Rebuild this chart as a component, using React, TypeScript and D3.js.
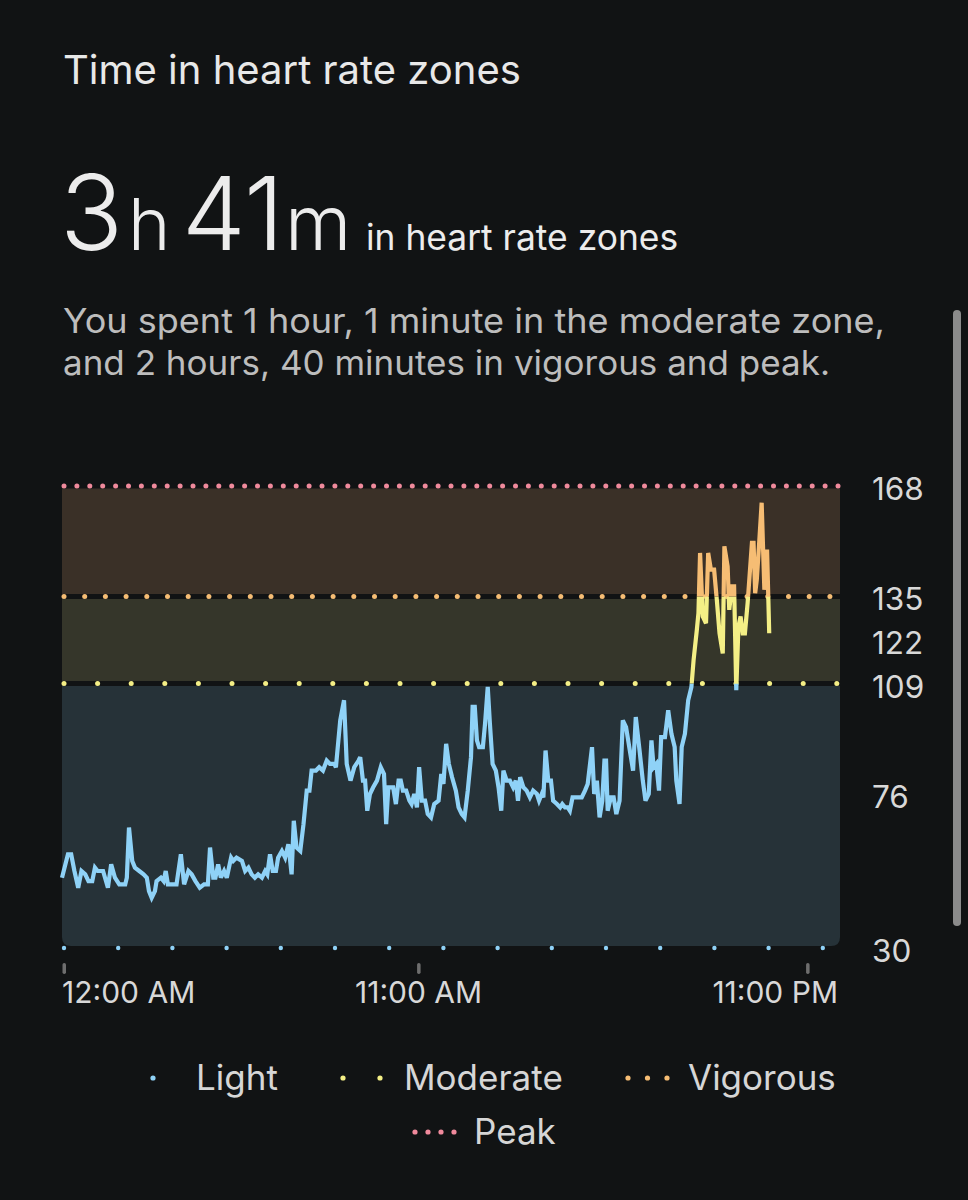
import React from "react";
import * as d3 from "d3";

// ---- data (minutes since midnight, beats per minute) ----
const minutes = [
  0, 11, 17, 23, 30, 36, 43, 49, 56, 61, 66, 76, 85, 91, 98, 106, 117, 120, 124, 130,
  135, 143, 151, 157, 161, 166, 172, 175, 183, 188, 192, 196, 206, 212, 220, 226, 234, 240, 247, 255,
  263, 270, 274, 280, 284, 289, 294, 300, 305, 313, 317, 323, 333, 339, 345, 351, 357, 363, 370, 376,
  380, 385, 390, 396, 400, 407, 413, 419, 425, 429, 434, 441, 447, 453, 458, 462, 470, 476, 483, 490,
  496, 504, 507, 515, 522, 527, 534, 541, 549, 552, 557, 561, 565, 570, 576, 583, 590, 596, 600, 604,
  613, 618, 623, 627, 631, 637, 643, 647, 652, 657, 661, 666, 672, 677, 683, 689, 697, 702, 706, 711,
  716, 722, 729, 734, 740, 745, 751, 757, 760, 764, 768, 772, 779, 783, 788, 792, 797, 803, 808, 813,
  817, 823, 829, 835, 840, 844, 848, 854, 860, 866, 872, 879, 883, 888, 891, 895, 900, 905, 909, 916,
  922, 926, 931, 936, 940, 945, 953, 962, 968, 973, 981, 985, 990, 995, 1000, 1004, 1007, 1010, 1016, 1021,
  1026, 1032, 1038, 1044, 1052, 1057, 1062, 1069, 1075, 1080, 1086, 1091, 1095, 1100, 1105, 1109, 1116, 1122, 1128, 1134,
  1137, 1143, 1147, 1153, 1159, 1165, 1169, 1175, 1178, 1181, 1186, 1192, 1196, 1201, 1207, 1212, 1217, 1223, 1226, 1232,
  1235, 1240, 1244, 1248, 1252, 1256, 1260, 1264, 1269, 1277, 1280, 1283, 1286, 1290, 1295, 1300, 1305, 1309
];
const heartRate = [
  51, 58, 58, 53, 48, 53, 52, 50, 50, 54, 53, 53, 48, 55, 51, 49, 49, 51, 66, 56,
  54, 53, 52, 51, 47, 45, 47, 50, 51, 50, 53, 49, 49, 49, 58, 49, 53, 52, 50, 48,
  49, 49, 60, 51, 51, 55, 51, 53, 51, 57, 56, 57, 56, 53, 54, 52, 51, 52, 51, 53,
  52, 58, 53, 53, 57, 59, 57, 61, 52, 68, 60, 59, 67, 77, 77, 83, 83, 84, 83, 86,
  85, 85, 84, 98, 104, 85, 80, 84, 86, 87, 80, 80, 71, 76, 78, 80, 84, 82, 67, 78,
  78, 73, 80, 80, 77, 77, 74, 73, 76, 72, 84, 74, 74, 70, 69, 73, 74, 82, 79, 91,
  85, 81, 77, 72, 70, 69, 77, 87, 102, 102, 92, 90, 90, 97, 108, 97, 85, 83, 78, 71,
  83, 80, 80, 78, 80, 74, 81, 78, 77, 75, 77, 76, 74, 76, 75, 89, 80, 80, 74, 73,
  72, 73, 72, 72, 71, 75, 75, 75, 77, 79, 90, 76, 80, 69, 74, 86, 86, 71, 75, 75,
  70, 74, 98, 96, 88, 83, 99, 89, 80, 74, 76, 92, 84, 85, 77, 93, 93, 101, 94, 90,
  80, 73, 90, 94, 104, 108, 116, 125, 130, 148, 129, 127, 148, 143, 143, 134, 124, 118, 150, 144,
  131, 138, 138, 107, 126, 129, 124, 124, 133, 151, 151, 136, 140, 150, 163, 137, 149, 124
];

const yTicks = [168, 135, 122, 109, 76, 30];
const xTickMinutes = [0, 660, 1380];
const xTickLabels = ["12:00 AM", "11:00 AM", "11:00 PM"];

const zoneNames = ["Light", "Moderate", "Vigorous", "Peak"];
const zoneColors = ["#8fd2f7", "#f4ef86", "#f6bd74", "#f08a9c"];
const zoneFill = ["#263238", "#35362a", "#3a3027"];
const zoneDotSpacing = [54.2, 33.6, 20.7, 12.9];

const BG = "#111314";
const FONT = "Inter, 'Open Sans', sans-serif";

export default function App() {
  const W = 968;
  const H = 1200;
  const x = d3.scaleLinear().domain([0, 1440]).range([62, 840]);
  const y = d3.scaleLinear().domain([30, 168]).range([948, 486]);

  const data = minutes.map((m, i) => ({ m, v: heartRate[i] }));
  const lineGen = d3
    .line<{ m: number; v: number }>()
    .x((d) => x(d.m))
    .y((d) => y(d.v));
  const pathD = lineGen(data) || "";

  const left = x(0);
  const right = x(1440);
  const bottom = y(30) - 2;
  const r = 9;

  const lightTop = y(109);
  const lightPath = `M${left},${lightTop} H${right} V${bottom - r} Q${right},${bottom} ${right - r},${bottom} H${left + r} Q${left},${bottom} ${left},${bottom - r} Z`;

  const clipBands = [
    { id: "clipLight", y0: y(109), y1: H },
    { id: "clipMod", y0: y(135), y1: y(109) },
    { id: "clipVig", y0: 0, y1: y(135) },
  ];

  const dotRow = (level: number, zi: number, rr: number) => {
    const sp = zoneDotSpacing[zi];
    const n = Math.floor((right - 2 - 64) / sp);
    return d3.range(n + 1).map((k) => (
      <circle key={`d${zi}-${k}`} cx={64 + k * sp} cy={y(level)} r={rr} fill={zoneColors[zi]} />
    ));
  };

  const legendRow1 = [
    { zi: 0, dotsX: 153, textX: 196 },
    { zi: 1, dotsX: 343, textX: 404 },
    { zi: 2, dotsX: 628, textX: 688 },
  ];
  const legendRow2 = [{ zi: 3, dotsX: 415, textX: 474 }];
  const legendDotGap = [0, 37, 19.5, 13];

  const renderLegend = (items: { zi: number; dotsX: number; textX: number }[], cy: number) =>
    items.map((it) => (
      <g key={`lg${it.zi}`}>
        {d3.range(it.zi + 1).map((k) => (
          <circle key={k} cx={it.dotsX + k * legendDotGap[it.zi]} cy={cy} r={2.6} fill={zoneColors[it.zi]} />
        ))}
        <text x={it.textX} y={cy + 12} fontSize={35} fill="#d6d6d6" fontFamily={FONT}>
          {zoneNames[it.zi]}
        </text>
      </g>
    ));

  return (
    <div style={{ position: "absolute", left: 0, top: 0, width: W, height: H, background: BG }}>
      <svg width={W} height={H} style={{ display: "block" }}>
        <rect x={0} y={0} width={W} height={H} fill={BG} />
        <defs>
          {clipBands.map((c) => (
            <clipPath id={c.id} key={c.id}>
              <rect x={0} y={c.y0} width={W} height={c.y1 - c.y0} />
            </clipPath>
          ))}
        </defs>

        {/* Header text */}
        <text x={63} y={84} fontSize={40} fill="#e8e8e8" fontFamily={FONT}>
          Time in heart rate zones
        </text>
        <text y={250} fill="#ececec" fontFamily={FONT} fontWeight={300}>
          <tspan x={60} fontSize={104}>3</tspan>
          <tspan x={128} fontSize={72}>h</tspan>
          <tspan x={182} fontSize={102} textLength={102} lengthAdjust="spacingAndGlyphs">41</tspan>
          <tspan x={285} fontSize={76}>m</tspan>
        </text>
        <text x={366} y={250} fontSize={35.4} fill="#ececec" fontFamily={FONT}>
          in heart rate zones
        </text>
        <text x={63} y={333} fontSize={33.5} fill="#bdbdbd" fontFamily={FONT} textLength={822} lengthAdjust="spacingAndGlyphs">
          You spent 1 hour, 1 minute in the moderate zone,
        </text>
        <text x={63} y={375} fontSize={33.5} fill="#bdbdbd" fontFamily={FONT} textLength={767} lengthAdjust="spacingAndGlyphs">
          and 2 hours, 40 minutes in vigorous and peak.
        </text>

        {/* Zone backgrounds */}
        <rect x={left} y={y(168)} width={right - left} height={y(135) - y(168)} fill={zoneFill[2]} />
        <rect x={left} y={y(135)} width={right - left} height={y(109) - y(135)} fill={zoneFill[1]} />
        <path d={lightPath} fill={zoneFill[0]} />

        {[168, 135, 109].map((lv) => (
          <line key={`bl${lv}`} x1={left} x2={right} y1={y(lv)} y2={y(lv)} stroke={BG} strokeWidth={5} />
        ))}
        {dotRow(168, 3, 2.5)}
        {dotRow(135, 2, 2.5)}
        {dotRow(109, 1, 2.5)}
        {dotRow(30, 0, 2.2)}

        {clipBands.map((c, i) => (
          <path
            key={`ln${i}`}
            d={pathD}
            fill="none"
            stroke={zoneColors[i]}
            strokeWidth={4.2}
            strokeLinejoin="miter"
            strokeMiterlimit={3}
            clipPath={`url(#${c.id})`}
          />
        ))}

        {yTicks.map((t) => (
          <text key={`yt${t}`} x={872} y={y(t) + 14} fontSize={31.5} fill="#d8d8d8" fontFamily={FONT}>
            {t}
          </text>
        ))}

        {xTickMinutes.map((m, i) => {
          const tx = x(m);
          const anchor = i === 0 ? "start" : i === xTickMinutes.length - 1 ? "end" : "middle";
          const lx = i === 0 ? left : i === xTickMinutes.length - 1 ? right - 2 : tx;
          return (
            <g key={`xt${m}`}>
              <rect x={tx - 1.5 + (i === 0 ? 2 : 0)} y={963} width={3.5} height={11} rx={1.7} fill="#6e6e6e" />
              <text x={lx} y={1003} fontSize={30} fill="#d8d8d8" fontFamily={FONT} textAnchor={anchor}>
                {xTickLabels[i]}
              </text>
            </g>
          );
        })}

        {renderLegend(legendRow1, 1078)}
        {renderLegend(legendRow2, 1132)}

        <rect x={953} y={310} width={8} height={616} rx={4} fill="#8b8b8b" />
      </svg>
    </div>
  );
}
